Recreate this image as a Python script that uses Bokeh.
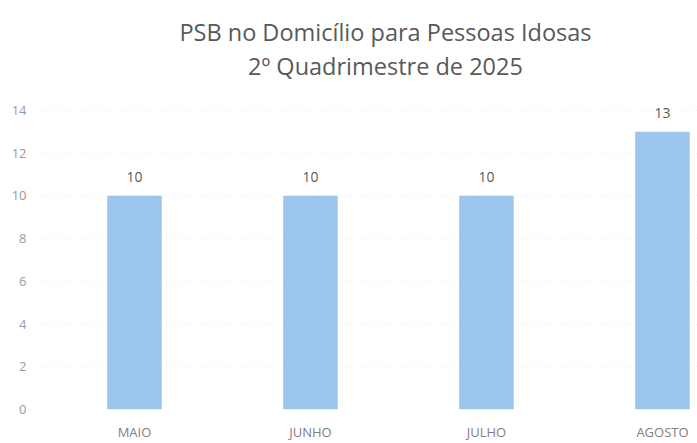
from bokeh.plotting import figure
from bokeh.models import Range1d, ColumnDataSource, LabelSet, FixedTicker
from bokeh.core.properties import value
from bokeh.embed import file_html
from bokeh.resources import INLINE

months = ["MAIO", "JUNHO", "JULHO", "AGOSTO"]
values = [10, 10, 10, 13]
title_lines = ["PSB no Domicílio para Pessoas Idosas", "2º Quadrimestre de 2025"]
y_ticks = [0, 2, 4, 6, 8, 10, 12, 14]

FONT = "Open Sans"
xs = list(range(len(months)))
src = ColumnDataSource(dict(x=xs, v=values, t=[str(v) for v in values]))

p = figure(width=697, height=443, output_backend="svg", toolbar_location=None,
           x_range=Range1d(-0.534, 3.199), y_range=Range1d(0, 19.14),
           min_border_left=40, min_border_right=0, min_border_top=0, min_border_bottom=34)
p.outline_line_color = None
p.background_fill_color = "white"

p.vbar(x="x", top="v", width=0.31, source=src, fill_color="#9CC6EC", line_color=None)

p.add_layout(LabelSet(x="x", y="v", text="t", source=src, y_offset=19,
                      text_align="center", text_baseline="middle",
                      text_font=value(FONT), text_font_size=value("14px"), text_color="#595959"))

# two-line chart title, centred over the middle of the bar group
tsrc = ColumnDataSource(dict(x=[1.426, 1.426], y=[17.66, 16.06], t=title_lines))
p.text(x="x", y="y", text="t", source=tsrc, text_align="center", text_baseline="middle",
       text_font=value(FONT), text_font_size=value("23.5px"), text_color="#595959")

for ax in (p.xaxis, p.yaxis):
    ax.axis_line_color = None
    ax.major_tick_line_color = None
    ax.minor_tick_line_color = None
    ax.major_tick_out = 0
    ax.major_tick_in = 0
    ax.minor_tick_out = 0
    ax.minor_tick_in = 0
    ax.axis_label_standoff = 0
    ax.major_label_text_font = FONT
    ax.major_label_text_font_size = "13px"

p.yaxis.ticker = FixedTicker(ticks=y_ticks)
p.yaxis.major_label_text_color = "#9a9aa2"
p.yaxis.major_label_standoff = 14

p.xaxis.ticker = FixedTicker(ticks=xs)
p.xaxis.major_label_overrides = {i: m for i, m in enumerate(months)}
p.xaxis.major_label_text_color = "#808080"
p.xaxis.major_label_standoff = 13

p.xgrid.grid_line_color = None
p.ygrid.grid_line_color = "#e4e4e4"
p.ygrid.grid_line_dash = "1 4"

open("out.html", "w").write(file_html(p, INLINE))
